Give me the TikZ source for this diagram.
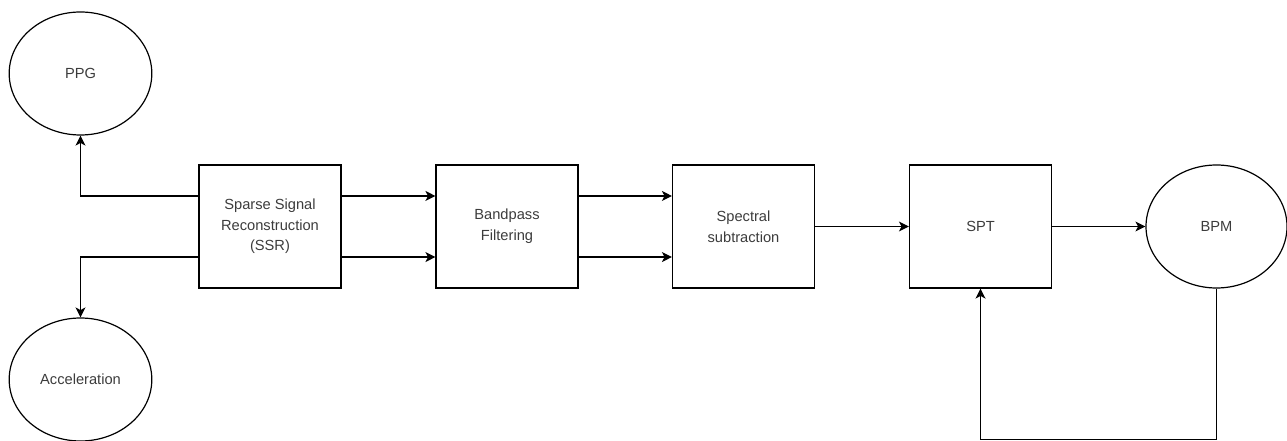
\documentclass[tikz,border=0pt]{standalone}
\usepackage{fontspec}
\setmainfont{Liberation Sans}
\usetikzlibrary{arrows.meta,shapes.geometric,calc}
\definecolor{txtgray}{RGB}{60,60,60}
\begin{document}
\begin{tikzpicture}[x=0.75pt,y=-0.75pt,
  every node/.style={font=\fontsize{11}{15.5}\selectfont, text=txtgray, align=center, line width=0.9pt},
  blockbox/.style={draw=black, rectangle, minimum width=106.5pt, minimum height=92.25pt, inner sep=0pt},
  ovalnode/.style={draw=black, ellipse, minimum width=107pt, minimum height=92.25pt, inner sep=0pt},
  arr/.style={draw=black, line width=0.9pt, -{Stealth[length=7.5pt,width=7.5pt,inset=2pt]}},
  ln/.style={draw=black, line width=0.9pt}]
\useasboundingbox (0,0) rectangle (1287,441);
\node[ovalnode] (ppg) at (80.5,73.5) {PPG};
\node[ovalnode] (acc) at (80.5,379.5) {Acceleration};
\node[blockbox] (ssr) at (270,226.5) {Sparse Signal\\Reconstruction\\(SSR)};
\node[blockbox] (bp) at (507,226.5) {Bandpass\\Filtering};
\node[blockbox] (ss) at (743.5,226.5) {Spectral\\subtraction};
\node[blockbox] (spt) at (980.5,226.5) {SPT};
\node[ovalnode, minimum width=105.75pt] (bpm) at (1216.5,226.5) {BPM};
\draw[arr] ([yshift=22.9pt]ssr.west) -| (ppg.south);
\draw[arr] ([yshift=-22.9pt]ssr.west) -| (acc.north);
\draw[arr] ([yshift=22.9pt]ssr.east) -- ([yshift=22.9pt]bp.west);
\draw[arr] ([yshift=-22.9pt]ssr.east) -- ([yshift=-22.9pt]bp.west);
\draw[arr] ([yshift=22.9pt]bp.east) -- ([yshift=22.9pt]ss.west);
\draw[arr] ([yshift=-22.9pt]bp.east) -- ([yshift=-22.9pt]ss.west);
\draw[arr] (ss.east) -- (spt.west);
\draw[arr] (spt.east) -- (bpm.west);
\coordinate (fbr) at (bpm.south |- 0,439.5);
\coordinate (fbl) at (spt.south |- 0,439.5);
\draw[arr] (bpm.south) -- (fbr) -- (fbl) -- (spt.south);
\end{tikzpicture}
\end{document}
